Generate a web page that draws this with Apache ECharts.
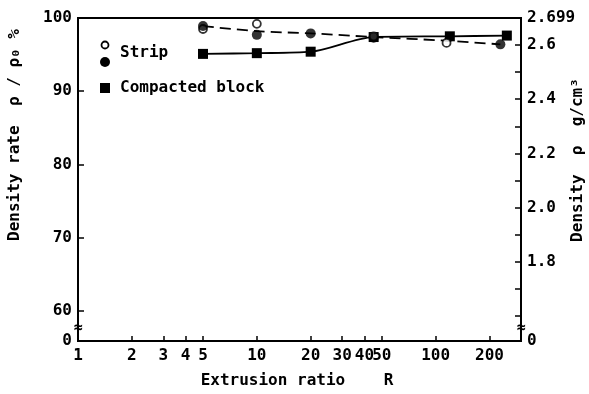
<!DOCTYPE html>
<html><head><meta charset="utf-8">
<script src="https://cdn.jsdelivr.net/npm/echarts@6/dist/echarts.min.js"></script>
<style>html,body{margin:0;padding:0;background:#fff}#c{width:589px;height:394px}</style>
</head><body><div id="c"></div>
<script>
// ---- data ----
const xTickValues = [1, 2, 3, 4, 5, 10, 20, 30, 40, 50, 100, 200];
const leftTickValues = [60, 70, 80, 90, 100];
const rightTickValues = [1.6, 1.7, 1.8, 1.9, 2.0, 2.1, 2.2, 2.3, 2.4, 2.5, 2.6];
const rightLabelValues = [1.8, 2.0, 2.2, 2.4, 2.6];
const theoreticalDensity = 2.699;
const stripOpenR = [5, 10, 45, 115];
const stripOpen = [98.5, 99.2, 97.5, 96.6];
const stripFilledR = [5, 10, 20, 45, 230];
const stripFilled = [98.9, 97.7, 97.9, 97.3, 96.4];
const stripCurveR = [5, 10, 20, 45, 115, 230];
const stripCurve = [98.9, 98.2, 97.9, 97.4, 96.9, 96.4];
const blockR = [5, 10, 20, 45, 120, 250];
const block = [95.1, 95.2, 95.4, 97.4, 97.5, 97.6];

const yMin = 55.9, yMax = 100;
const FONT = 'DejaVu Sans Mono';
const pairs = (xs, ys) => xs.map((x, i) => [x, ys[i]]);

const chart = echarts.init(document.getElementById('c'), null, {renderer: 'canvas'});
const axisLine = {lineStyle: {color: '#000', width: 2}};
const lbl = {color: '#000', fontFamily: FONT, fontSize: 16, fontWeight: 'bold'};
chart.setOption({
  animation: false,
  backgroundColor: '#fff',
  grid: {left: 78, right: 68, top: 18, bottom: 53, show: true, borderColor: '#000', borderWidth: 2},
  xAxis: {
    type: 'log', logBase: 10, min: 1, max: 300,
    axisLine: axisLine,
    axisTick: {inside: true, length: 5, lineStyle: {color: '#000', width: 1.5}, customValues: xTickValues},
    axisLabel: Object.assign({margin: 7, customValues: xTickValues,
      formatter: v => String(Math.round(v))}, lbl),
    minorTick: {show: false},
    splitLine: {show: false}
  },
  yAxis: [{
    type: 'value', min: yMin, max: yMax, position: 'left',
    axisLine: axisLine,
    axisTick: {inside: true, length: 6, lineStyle: {color: '#000', width: 1.5}, customValues: leftTickValues},
    axisLabel: Object.assign({margin: 6,
      customValues: [yMin].concat(leftTickValues),
      formatter: v => (Math.abs(v - yMin) < 1e-6 ? '0' : String(Math.round(v)))}, lbl),
    splitLine: {show: false}
  }, {
    type: 'value', min: yMin * theoreticalDensity / 100, max: theoreticalDensity, position: 'right',
    axisLine: axisLine,
    axisTick: {inside: true, length: 6, lineStyle: {color: '#000', width: 1.5}, customValues: rightTickValues},
    axisLabel: Object.assign({margin: 6,
      customValues: [yMin * theoreticalDensity / 100].concat(rightLabelValues, [theoreticalDensity]),
      formatter: v => (v < 1.6 ? '0' : (Math.abs(v - theoreticalDensity) < 1e-6 ? '2.699' : v.toFixed(1)))}, lbl),
    splitLine: {show: false}
  }],
  series: [{
    name: 'Strip curve', type: 'line', data: pairs(stripCurveR, stripCurve), smooth: 0.3,
    showSymbol: false, symbol: 'none', lineStyle: {color: '#000', width: 1.8, type: [11, 6]}, z: 2
  }, {
    name: 'Compacted block', type: 'line', data: pairs(blockR, block), smooth: 0.3,
    symbol: 'rect', symbolSize: 10, itemStyle: {color: '#000'},
    lineStyle: {color: '#000', width: 1.8}, z: 3
  }, {
    name: 'Strip (open)', type: 'scatter', data: pairs(stripOpenR, stripOpen),
    symbol: 'circle', symbolSize: 8, itemStyle: {color: '#fff', borderColor: '#000', borderWidth: 1.8}, z: 4
  }, {
    name: 'Strip (filled)', type: 'scatter', data: pairs(stripFilledR, stripFilled),
    symbol: 'circle', symbolSize: 10, itemStyle: {color: '#000'}, z: 5
  }]
});

// decorations: axis titles, legend, axis breaks
const px = chart.convertToPixel({xAxisIndex: 0}, 1);
const pxR = chart.convertToPixel({xAxisIndex: 0}, 300);
const breakY = chart.convertToPixel({yAxisIndex: 0}, 57.6);
const F = 'bold 16px "' + FONT + '"';
const txt = (x, y, s, opts) => ({type: 'text', x: x, y: y,
  style: Object.assign({text: s, fill: '#000', font: F, align: 'left', verticalAlign: 'middle'}, opts || {})});
chart.setOption({
  graphic: [
    Object.assign(txt(15, 135, 'Density rate  ρ / ρ₀ %', {align: 'center'}), {rotation: Math.PI / 2}),
    Object.assign(txt(578, 160, 'Density  ρ  g/cm³', {align: 'center'}), {rotation: Math.PI / 2}),
    txt(297, 381, 'Extrusion ratio    R', {align: 'center'}),
    {type: 'circle', shape: {cx: 105, cy: 45, r: 3.5}, style: {fill: '#fff', stroke: '#000', lineWidth: 1.8}},
    {type: 'circle', shape: {cx: 105, cy: 62, r: 5}, style: {fill: '#000'}},
    txt(120, 53, 'Strip'),
    {type: 'rect', shape: {x: 100, y: 83, width: 10, height: 10}, style: {fill: '#000'}},
    txt(120, 88, 'Compacted block'),
    txt(px, breakY, '≈', {align: 'center', font: 'bold 15px "' + FONT + '"', backgroundColor: '#fff'}),
    txt(pxR, breakY, '≈', {align: 'center', font: 'bold 15px "' + FONT + '"', backgroundColor: '#fff'})
  ]
});
</script></body></html>
